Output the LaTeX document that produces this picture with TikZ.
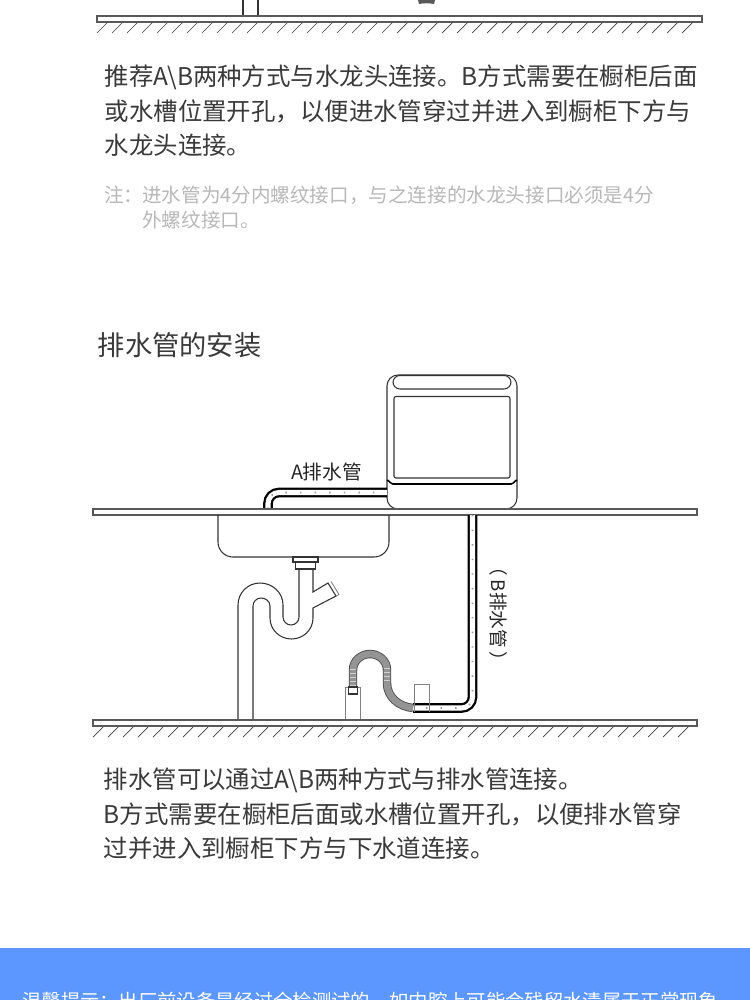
\documentclass[tikz,border=0pt]{standalone}
\usepackage{fontspec}
\usepackage{xcolor}
\setmainfont{Noto Sans CJK SC}
\usetikzlibrary{positioning,calc}
\definecolor{bannerblue}{HTML}{5C96FF}
\definecolor{bodygray}{HTML}{3A3A3A}
\definecolor{notegray}{HTML}{B8B8B8}

\begin{document}
\begin{tikzpicture}[
    x=0.02cm, y=-0.02cm,
    bodytext/.style={anchor=west, align=left, inner sep=0pt, text=bodygray, font=\fontsize{13.9}{19.6}\selectfont},
    notetext/.style={anchor=west, align=left, inner sep=0pt, text=notegray, font=\fontsize{11.15}{14.2}\selectfont},
    pipelabel/.style={inner sep=0pt, text=black!85, font=\fontsize{11.2}{13}\selectfont},
    slab/.style={draw=black!65, line width=0.6pt, fill=white},
    hatchline/.style={draw=black!75, line width=0.4pt},
    outline/.style={draw=black!80, line width=0.6pt},
    greyline/.style={draw=black!50, line width=0.5pt},
    drainpipe/.style={draw=black, line width=1.3pt, double=white, double distance=2.9pt, rounded corners=0.22cm},
    pipemark/.style={draw=black!40, line width=1pt, dash pattern=on 0.8pt off 7.5pt, rounded corners=0.22cm},
    hoseshell/.style={draw=black!70, line width=4.8pt},
    hosefill/.style={draw=black!42, line width=3.8pt},
    hoserib/.style={draw=black!18, line width=3.8pt, dash pattern=on 0.3pt off 2pt}
  ]
    \useasboundingbox (0,0) rectangle (750,1000);
    \fill[white] (0,0) rectangle (750,1000);

    % Upper Slab
    \draw[outline] (243,0) -- (243,16);
    \draw[outline] (258,0) -- (258,16);
    \fill[black!65] (418,0) -- (435,0) -- (434,4) to[out=170,in=10] (419,4) -- cycle;
    \draw[slab] (97,16) rectangle (702,22);
    \foreach \hx in {97,112,...,692}
      \draw[hatchline] (\hx,33) -- (\hx+10,23);

    % Inlet Text
    \node[bodytext] (inlettext) at (104.5,111) {推荐A\textbackslash B两种方式与水龙头连接。B方式需要在橱柜后面\\或水槽位置开孔，以便进水管穿过并进入到橱柜下方与\\水龙头连接。};
    \node[notetext] (notemark) at (104,195) {注：};
    \node[notetext] (notetext) at (142,207.5) {进水管为4分内螺纹接口，与之连接的水龙头接口必须是4分\\外螺纹接口。};

    % Heading
    \node[inner sep=0pt, anchor=west, text=bodygray, font=\fontsize{15.5}{18}\selectfont] (drainhead) at (97.5,345.5) {排水管的安装};

    % Machine
    \draw[outline, rounded corners=0.22cm] (387,375) rectangle (517,509);
    \draw[outline, rounded corners=0.14cm] (393,375.5) rectangle (511,389);
    \draw[outline, rounded corners=0.04cm] (394,396.5) rectangle (510,478);
    \draw[draw=black, line width=0.9pt] (387,481) to[out=70,in=180] (393,484) -- (511,484) to[out=0,in=110] (517,481);

    % Pipe A
    \draw[drainpipe] (268,509) -- (268,492.5) -- (387,492.5);
    \draw[pipemark] (268,509) -- (268,492.5) -- (387,492.5);
    \node[pipelabel] (pipealabel) at (326.5,472) {A排水管};

    % Counter And Sink
    \draw[slab] (93,509) rectangle (697,515);
    \draw[outline, rounded corners=0.3cm] (218,515) -- (218,557) -- (389,557) -- (389,515);

    % Pipe B
    \draw[drainpipe] (472.5,515) -- (472.5,708) -- (413,708);
    \draw[pipemark] (472.5,515) -- (472.5,708) -- (413,708);
    \node[pipelabel, rotate=-90, font=\fontsize{10.6}{13}\selectfont] (pipeblabel) at (499,614) {（\kern2pt B排水管\kern2pt）};

    % Trap
    \draw[outline] (293,557) rectangle (318,562);
    \draw[outline] (295.5,562) rectangle (315.5,569);
    \draw[outline] (238,720) -- (238,605) to[out=90,in=180] (260,583) to[out=0,in=90] (283,605) -- (283,617)
      to[out=-90,in=180] (291,625) to[out=0,in=-90] (299,617) -- (299,569);
    \draw[outline] (253,720) -- (253,606) to[out=90,in=180] (261,598) to[out=0,in=90] (270,606) -- (270,618)
      to[out=-90,in=180] (291.5,639) to[out=0,in=-90] (313,618) -- (313,608) -- (336,596) -- (328,583) -- (313,592) -- (313,569);
    \draw[greyline] (331,581.5) -- (339,594.5) -- (336,596);

    % Stand Pipe
    \draw[greyline] (345,720) -- (345,687) -- (360,687) -- (360,720);
    \draw[hoseshell] (353,686) -- (353,670) to[out=90,in=180] (370,654) to[out=0,in=90] (387,670) -- (387,683) to[out=-90,in=175] (413,708);
    \draw[hosefill] (353,686) -- (353,670) to[out=90,in=180] (370,654) to[out=0,in=90] (387,670) -- (387,683) to[out=-90,in=175] (413,708);
    \draw[hoserib] (353,686) -- (353,668);
    \draw[hoserib] (387,668) -- (387,684);
    \draw[outline, fill=white] (348.5,687) rectangle (357.5,694);
    \draw[greyline] (414,712) -- (414,684) -- (429,684) -- (429,712);

    % Floor
    \draw[slab] (93,720) rectangle (697,726);
    \foreach \hx in {93,108,...,688}
      \draw[hatchline] (\hx,737) -- (\hx+10,727);

    % Drain Text
    \node[bodytext] (draintext) at (103.5,814) {排水管可以通过A\textbackslash B两种方式与排水管连接。\\B方式需要在橱柜后面或水槽位置开孔，以便排水管穿\\过并进入到橱柜下方与下水道连接。};

    % Bottom Banner
    \fill[bannerblue] (0,948) rectangle (750,1000);
    \node[inner sep=0pt, anchor=west, text=white, font=\fontsize{11}{14}\selectfont] (bannertext) at (22,1001) {温馨提示：出厂前设备是经过全检测试的，如内腔上可能会残留水渍属于正常现象};
\end{tikzpicture}
\end{document}
